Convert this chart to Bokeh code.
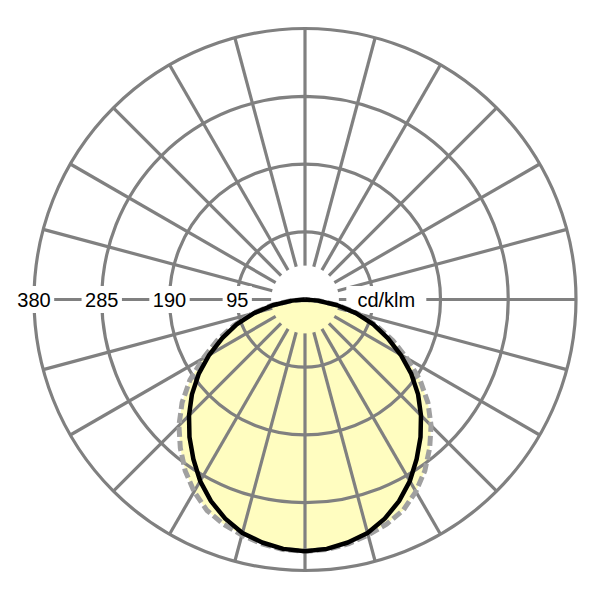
import numpy as np
from bokeh.plotting import figure
from bokeh.models import Range1d
from bokeh.core.properties import value
from bokeh.embed import file_html
from bokeh.resources import INLINE

# ---- data (cd/klm) ----
gamma_deg = [0, 5, 10, 15, 20, 25, 30, 35, 40, 45, 50, 55, 60, 65, 70, 75, 80, 85, 90]
c0_c180 = [353, 351, 346, 339, 327, 312, 294, 273, 252, 230, 207, 182, 155, 128, 102, 74, 46, 18, 0]
c90_c270 = [353, 352, 348, 342, 335, 326, 311, 293, 272, 250, 225, 197, 165, 136, 106, 77, 48, 20, 0]
ring_values = [95, 190, 285, 380]
ring_labels = ["95", "190", "285", "380"]
unit_label = "cd/klm"
radial_step_deg = 15
inner_radius = 47.5

GRID = "#808080"
YELLOW = "#fffdc0"
FONT = "Liberation Sans"
FS = 20

# ---- layout ----
PX = 271 / 380.0          # pixels per cd/klm
CXP, CYP = 304.5, 299.0   # centre in picture pixels
OFF = 0
W = H = 584
x_start = (OFF - CXP) / PX
x_end = (OFF + W - CXP) / PX
y_end = (CYP - OFF) / PX
y_start = (CYP - OFF - H) / PX

p = figure(width=W, height=H, x_range=Range1d(x_start, x_end), y_range=Range1d(y_start, y_end),
           output_backend="svg", toolbar_location=None, min_border=0,
           x_axis_location=None, y_axis_location=None)
p.grid.visible = False
p.outline_line_color = None
p.background_fill_color = "white"
p.border_fill_color = "white"

g = np.radians(np.array(gamma_deg, float))


def curve(vals):
    v = np.array(vals, float)
    xr = v * np.sin(g)
    yr = -v * np.cos(g)
    x = np.concatenate([-xr[::-1], xr[1:]])
    y = np.concatenate([yr[::-1], yr[1:]])
    return x, y


xd, yd = curve(c90_c270)
xb, yb = curve(c0_c180)

# fills
p.patch(xd, yd, fill_color=YELLOW, line_color=None)
p.patch(xb, yb, fill_color=YELLOW, line_color=None)

# rings
p.circle(x=[0] * len(ring_values), y=[0] * len(ring_values), radius=ring_values,
         fill_color=None, line_color=GRID, line_width=3.2)

# radial lines
ang = np.radians(np.arange(0, 360, radial_step_deg))
rmax = max(ring_values)
p.segment(x0=inner_radius * np.cos(ang), y0=inner_radius * np.sin(ang),
          x1=rmax * np.cos(ang), y1=rmax * np.sin(ang),
          line_color=GRID, line_width=3.2)

# label boxes + labels
lx = [-v for v in ring_values]
bw = [FS * 0.556 * len(t) + 7 for t in ring_labels]
p.rect(x=lx, y=[0] * len(lx), width=bw, height=27, width_units="screen", height_units="screen",
       fill_color="white", line_color=None)
p.text(x=lx, y=[0] * len(lx), text=ring_labels, text_font=value(FONT), text_font_size=f"{FS}px",
       text_align="center", text_baseline="middle", text_color="black")

ux = ring_values[0] * 1.2
p.rect(x=[ux], y=[0], width=[80], height=27, width_units="screen", height_units="screen",
       fill_color="white", line_color=None)
p.text(x=[ux], y=[0], text=[unit_label], text_font=value(FONT), text_font_size=f"{FS}px",
       text_align="center", text_baseline="middle", text_color="black")

# curves
p.line(xd, yd, line_color="#a0a0a0", line_width=5, line_dash="10 4")
p.line(xb, yb, line_color="black", line_width=4.5, line_join="round")

open("out.html", "w").write(file_html(p, INLINE))
